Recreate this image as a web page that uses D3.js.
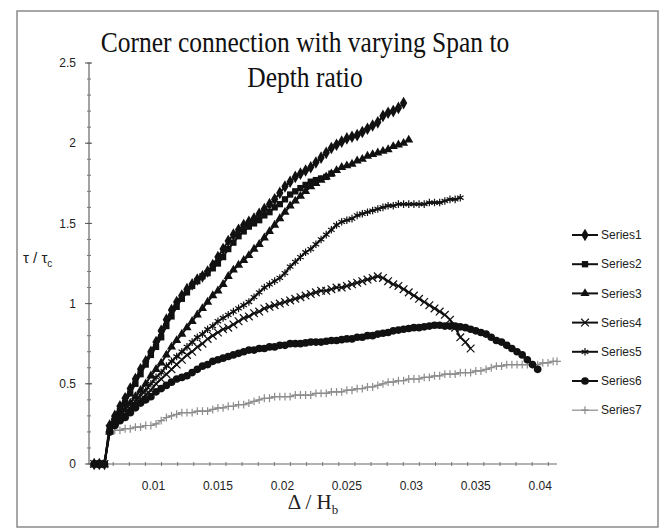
<html>
  <head>
    <meta charset="utf-8">
    <script src="https://cdn.jsdelivr.net/npm/d3@7"></script>
    <style type="text/css">
    body { margin: 0; background: #fff; }
    text.tick-label { font-family: "Liberation Sans", Arial, sans-serif; font-size: 12px; fill: #222; }
    text.title { font-family: "Liberation Serif", "Times New Roman", serif; font-size: 25.5px; fill: #111; text-anchor: middle; }
    text.legend { font-family: "Liberation Sans", Arial, sans-serif; font-size: 12px; fill: #222; }
    path.series { fill: none; stroke: #111; stroke-width: 2; stroke-linejoin: round; }
    </style>
  </head>
  <body>
    <script type="text/javascript">

      // shared strain grid (Delta / Hb)
      var strain = [
        0.0054,0.0058,0.0062,0.0066,0.0070,0.0074,0.0078,0.0082,0.0086,0.0090,
        0.0094,0.0098,0.0102,0.0106,0.0110,0.0114,0.0118,0.0122,0.0126,0.0130,
        0.0134,0.0138,0.0142,0.0146,0.0150,0.0154,0.0158,0.0162,0.0166,0.0170,
        0.0174,0.0178,0.0182,0.0186,0.0190,0.0194,0.0198,0.0202,0.0206,0.0210,
        0.0214,0.0218,0.0222,0.0226,0.0230,0.0234,0.0238,0.0242,0.0246,0.0250,
        0.0254,0.0258,0.0262,0.0266,0.0270,0.0274,0.0278,0.0282,0.0286,0.0290,
        0.0294,0.0298,0.0302,0.0306,0.0310,0.0314,0.0318,0.0322,0.0326,0.0330,
        0.0334,0.0338,0.0342,0.0346,0.0350,0.0354,0.0358,0.0362,0.0366,0.0370,
        0.0374,0.0378,0.0382,0.0386,0.0390,0.0394,0.0398,0.0402,0.0406,0.0410,
        0.0413];

      // tau / tau_c for each series
      var series1 = [
        0,0,0,0.24,0.30,0.36,0.41,0.47,0.53,0.59,
        0.64,0.70,0.76,0.83,0.90,0.96,1.01,1.05,1.09,1.12,
        1.15,1.17,1.20,1.24,1.29,1.34,1.39,1.43,1.46,1.49,
        1.51,1.53,1.56,1.59,1.62,1.65,1.69,1.73,1.76,1.79,
        1.81,1.83,1.85,1.88,1.91,1.94,1.97,1.99,2.01,2.03,
        2.04,2.05,2.07,2.09,2.11,2.13,2.17,2.19,2.20,2.22,
        2.25];
      var series2 = [
        0,0,0,0.22,0.28,0.33,0.38,0.44,0.50,0.56,
        0.62,0.68,0.73,0.79,0.86,0.92,0.98,1.03,1.07,1.11,
        1.14,1.17,1.19,1.22,1.25,1.29,1.34,1.38,1.42,1.45,
        1.48,1.50,1.52,1.55,1.57,1.60,1.62,1.65,1.68,1.70,
        1.72,1.74,1.76,1.77,1.78,1.79,1.81];
      var series3 = [
        0,0,0,0.20,0.26,0.30,0.34,0.38,0.42,0.46,
        0.50,0.55,0.59,0.63,0.68,0.73,0.77,0.81,0.85,0.89,
        0.93,0.97,1.01,1.05,1.08,1.12,1.17,1.21,1.24,1.27,
        1.30,1.34,1.37,1.41,1.45,1.49,1.53,1.57,1.61,1.64,
        1.67,1.70,1.73,1.75,1.77,1.79,1.81,1.83,1.85,1.86,
        1.87,1.89,1.90,1.92,1.93,1.94,1.95,1.96,1.98,1.99,
        2.00,2.02];
      var series4 = [
        0,0,0,0.22,0.26,0.29,0.31,0.34,0.37,0.40,
        0.43,0.46,0.50,0.53,0.56,0.59,0.62,0.65,0.68,0.70,
        0.73,0.75,0.78,0.80,0.82,0.84,0.85,0.87,0.89,0.91,
        0.92,0.94,0.95,0.97,0.98,0.99,1.00,1.01,1.02,1.03,
        1.04,1.05,1.06,1.07,1.08,1.08,1.09,1.10,1.10,1.11,
        1.12,1.13,1.14,1.15,1.16,1.17,1.16,1.14,1.12,1.11,
        1.09,1.07,1.05,1.03,1.01,0.99,0.97,0.95,0.93,0.90,
        0.85,0.79,0.76,0.72];
      var series5 = [
        0,0,0,0.20,0.24,0.28,0.31,0.35,0.39,0.43,
        0.46,0.50,0.54,0.57,0.61,0.64,0.67,0.70,0.73,0.76,
        0.79,0.81,0.84,0.86,0.89,0.91,0.93,0.95,0.97,0.99,
        1.01,1.04,1.07,1.10,1.12,1.14,1.16,1.19,1.23,1.26,
        1.29,1.32,1.34,1.37,1.40,1.43,1.46,1.49,1.51,1.52,
        1.53,1.55,1.56,1.57,1.58,1.59,1.60,1.61,1.61,1.62,
        1.62,1.62,1.62,1.62,1.62,1.63,1.63,1.63,1.64,1.65,
        1.65,1.66];
      var series6 = [
        0,0,0,0.20,0.24,0.27,0.29,0.32,0.35,0.38,
        0.40,0.42,0.45,0.47,0.49,0.51,0.53,0.54,0.55,0.57,
        0.59,0.61,0.62,0.64,0.65,0.66,0.67,0.68,0.69,0.70,
        0.71,0.71,0.72,0.72,0.73,0.73,0.74,0.74,0.75,0.75,
        0.75,0.755,0.76,0.76,0.76,0.765,0.77,0.77,0.775,0.78,
        0.78,0.79,0.79,0.80,0.80,0.81,0.815,0.82,0.83,0.835,
        0.84,0.845,0.85,0.85,0.855,0.86,0.865,0.865,0.86,0.86,
        0.86,0.855,0.85,0.84,0.83,0.82,0.81,0.79,0.77,0.76,
        0.74,0.72,0.70,0.68,0.65,0.62,0.59];
      var series7 = [
        0,0,0,0.20,0.21,0.21,0.22,0.22,0.23,0.23,
        0.24,0.24,0.25,0.27,0.29,0.30,0.31,0.32,0.32,0.32,
        0.33,0.33,0.33,0.34,0.35,0.35,0.36,0.36,0.37,0.37,
        0.38,0.39,0.40,0.41,0.41,0.42,0.42,0.42,0.42,0.43,
        0.43,0.43,0.43,0.44,0.44,0.44,0.45,0.45,0.45,0.46,
        0.46,0.47,0.47,0.48,0.48,0.49,0.50,0.51,0.51,0.52,
        0.52,0.53,0.53,0.53,0.54,0.54,0.55,0.55,0.56,0.56,
        0.56,0.57,0.57,0.57,0.58,0.58,0.59,0.60,0.61,0.61,
        0.62,0.62,0.62,0.62,0.62,0.62,0.62,0.63,0.63,0.64,
        0.64];

      var seriesNames = ["Series1","Series2","Series3","Series4","Series5","Series6","Series7"];
      var xTickLabels = [0.01, 0.015, 0.02, 0.025, 0.03, 0.035, 0.04];
      var yTickLabels = [0, 0.5, 1, 1.5, 2, 2.5];

      var width = 662;
      var height = 532;

      var svg = d3.select("body").append("svg")
        .attr("width", width)
        .attr("height", height);

      /* Chart frame */
      svg.append("rect")
        .attr("x", 17).attr("y", 11)
        .attr("width", 641).attr("height", 516)
        .attr("fill", "#fff")
        .attr("stroke", "#8a8a8a")
        .attr("stroke-width", 1.5);

      var x = d3.scaleLinear().domain([0.005, 0.0413]).range([89, 557]);
      var y = d3.scaleLinear().domain([0, 2.5]).range([464, 63]);

      /* Title */
      var titleLines = ["Corner connection with varying Span to", "Depth ratio"];
      svg.selectAll("text.title")
        .data(titleLines)
        .enter()
        .append("text")
        .attr("class", "title")
        .attr("transform", function(d, i) { return "translate(305," + (52 + i * 35) + ") scale(1,1.15)"; })
        .text(function(d) { return d; });

      /* Y axis: minor ticks then labelled majors */
      var yAxis = svg.append("g").attr("transform", "translate(89,0)");
      yAxis.append("line")
        .attr("x1", 0).attr("x2", 0)
        .attr("y1", y(0)).attr("y2", y(2.5))
        .attr("stroke", "#666").attr("stroke-width", 1.2);
      yAxis.selectAll("line.minor")
        .data(d3.range(0, 2.51, 0.1))
        .enter()
        .append("line")
        .attr("class", "minor")
        .attr("x1", -2).attr("x2", 2)
        .attr("y1", function(d) { return y(d); })
        .attr("y2", function(d) { return y(d); })
        .attr("stroke", "#777");
      yAxis.selectAll("line.major")
        .data(yTickLabels)
        .enter()
        .append("line")
        .attr("class", "major")
        .attr("x1", -4).attr("x2", 3)
        .attr("y1", function(d) { return y(d); })
        .attr("y2", function(d) { return y(d); })
        .attr("stroke", "#555");
      yAxis.selectAll("text")
        .data(yTickLabels)
        .enter()
        .append("text")
        .attr("class", "tick-label")
        .attr("text-anchor", "end")
        .attr("x", -13)
        .attr("y", function(d) { return y(d); })
        .attr("dy", "0.35em")
        .text(function(d) { return d; });

      /* X axis */
      var xAxis = svg.append("g").attr("transform", "translate(0," + y(0) + ")");
      xAxis.append("line")
        .attr("x1", x(0.005)).attr("x2", x(0.0413))
        .attr("y1", 0).attr("y2", 0)
        .attr("stroke", "#666").attr("stroke-width", 1.2);
      xAxis.selectAll("line.minor")
        .data(d3.range(0.005625, 0.0413, 0.00125))
        .enter()
        .append("line")
        .attr("class", "minor")
        .attr("x1", function(d) { return x(d); })
        .attr("x2", function(d) { return x(d); })
        .attr("y1", -2).attr("y2", 2)
        .attr("stroke", "#777");
      xAxis.selectAll("text")
        .data(xTickLabels)
        .enter()
        .append("text")
        .attr("class", "tick-label")
        .attr("text-anchor", "middle")
        .attr("x", function(d) { return x(d); })
        .attr("y", 26)
        .text(function(d) { return d; });

      /* Axis titles */
      var yTitle = svg.append("text")
        .attr("x", 23).attr("y", 263)
        .attr("font-family", "Liberation Sans, Arial, sans-serif")
        .attr("font-size", 15)
        .attr("fill", "#222");
      yTitle.append("tspan").text("τ / τ");
      yTitle.append("tspan").attr("font-size", 10).attr("dy", 4).text("c");

      var xTitle = svg.append("text")
        .attr("x", 313).attr("y", 509)
        .attr("text-anchor", "middle")
        .attr("font-family", "Liberation Serif, Times New Roman, serif")
        .attr("font-size", 21)
        .attr("fill", "#222");
      xTitle.append("tspan").text("Δ / H");
      xTitle.append("tspan").attr("font-size", 13).attr("dy", 5).text("b");

      /* Series styles */
      var allValues = [series1, series2, series3, series4, series5, series6, series7];
      var symbols = [
        { type: d3.symbolDiamond, size: 46, filled: true },
        { type: d3.symbolSquare, size: 40, filled: true },
        { type: d3.symbolTriangle, size: 36, filled: true },
        { type: d3.symbolTimes || d3.symbolCross, size: 40, filled: false },
        { type: d3.symbolAsterisk || d3.symbolCross, size: 40, filled: false },
        { type: d3.symbolCircle, size: 46, filled: true },
        { type: d3.symbolPlus || d3.symbolCross, size: 22, filled: false }
      ];

      var line = d3.line()
        .x(function(d) { return x(d[0]); })
        .y(function(d) { return y(d[1]); });

      var plot = svg.append("g");

      for (var k = allValues.length - 1; k >= 0; k--) {
        var pts = allValues[k].map(function(v, i) { return [strain[i], v]; });
        var grey = (k === 6);
        var g = plot.append("g");
        g.append("path")
          .attr("class", "series")
          .attr("d", line(pts))
          .style("stroke", grey ? "#8c8c8c" : "#111")
          .style("stroke-width", grey ? 1.2 : 2);
        var sym = d3.symbol().type(symbols[k].type).size(symbols[k].size);
        g.selectAll("path.marker")
          .data(pts)
          .enter()
          .append("path")
          .attr("class", "marker")
          .attr("transform", function(d) { return "translate(" + x(d[0]) + "," + y(d[1]) + ")"; })
          .attr("d", sym())
          .attr("fill", symbols[k].filled ? "#111" : "none")
          .attr("stroke", grey ? "#8c8c8c" : "#111")
          .attr("stroke-width", symbols[k].filled ? 0 : 1.2);
      }

      /* Legend */
      var legend = svg.selectAll("g.legend")
        .data(seriesNames)
        .enter()
        .append("g")
        .attr("class", "legend")
        .attr("transform", function(d, i) { return "translate(572," + (235 + i * 29.2) + ")"; });
      legend.append("line")
        .attr("x1", 0).attr("x2", 26)
        .attr("y1", 0).attr("y2", 0)
        .attr("stroke", function(d, i) { return i === 6 ? "#8c8c8c" : "#111"; })
        .attr("stroke-width", function(d, i) { return i === 6 ? 1.2 : 2; });
      legend.append("path")
        .attr("transform", "translate(13,0)")
        .attr("d", function(d, i) { return d3.symbol().type(symbols[i].type).size(symbols[i].size)(); })
        .attr("fill", function(d, i) { return symbols[i].filled ? "#111" : "none"; })
        .attr("stroke", function(d, i) { return i === 6 ? "#8c8c8c" : "#111"; })
        .attr("stroke-width", function(d, i) { return symbols[i].filled ? 0 : 1.2; });
      legend.append("text")
        .attr("class", "legend")
        .attr("x", 29)
        .attr("y", 0)
        .attr("dy", "0.35em")
        .text(function(d) { return d; });

    </script>
  </body>
</html>
